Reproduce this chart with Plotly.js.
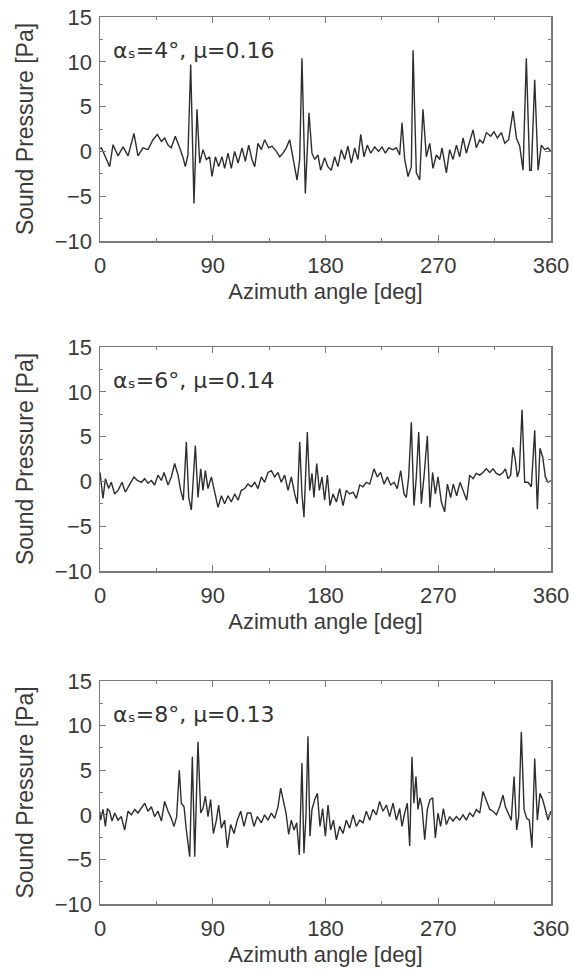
<!DOCTYPE html>
<html>
<head>
<meta charset="utf-8">
<script src="https://cdn.plot.ly/plotly-3.0.1.min.js"></script>
<style>html,body{margin:0;padding:0;background:#fff;}#chart{width:573px;height:974px;}</style>
</head>
<body>
<div id="chart"></div>
<script>
// Azimuth angles [deg] and sound pressure [Pa]
const angle4 = [0,1.1,7.7,10.4,14.4,18.4,22.4,27.1,30.3,34.3,38.3,42.3,45.8,49.0,51.6,54.3,56.9,60.1,63.6,66.3,68.1,70.2,72.4,75.0,77.4,79.6,82.2,84.9,87.5,89.4,92.1,94.7,97.4,99.5,102.2,104.8,107.5,110.2,113.4,116.0,118.7,121.3,123.5,126.1,128.8,131.4,134.6,137.3,140.8,143.4,146.1,148.7,151.4,154.1,157.3,159.4,161.2,163.9,166.8,169.2,171.4,174.0,176.1,179.3,181.9,184.6,187.3,189.9,192.6,195.3,197.9,200.6,203.3,205.9,208.1,210.7,213.4,216.1,219.3,222.4,225.1,227.8,230.4,233.9,236.6,239.2,241.1,243.2,245.9,248.5,249.9,252.5,255.2,257.8,260.5,263.2,265.8,268.5,271.2,273.0,276.5,279.1,281.8,284.5,287.1,289.8,292.4,295.1,297.8,300.4,303.1,305.7,308.4,311.9,314.5,317.2,320.4,323.1,326.2,329.7,332.4,335.0,337.7,340.3,343.0,344.3,347.0,349.7,352.3,355.0,357.6,359.8];
const press4 = [0.3,0.4,-1.7,0.75,-0.5,0.5,-0.5,2.0,-0.5,0.4,0.2,1.3,1.9,1.1,1.5,0.7,0.4,1.7,0.4,-0.7,-1.7,-0.4,9.7,-5.8,4.7,-1.3,0.2,-0.9,-0.6,-2.8,-0.6,-1.7,-0.6,-1.9,-0.2,-1.9,0,-1.3,0.4,-1.1,0.7,-0.9,-1.7,0.9,0.2,1.3,0.4,0.6,0,-0.6,-0.2,0.4,1.3,-0.9,-3.2,-0.9,10.4,-4.7,4.3,-0.2,-0.9,-0.4,-2.1,-0.7,-1.7,-2.1,-0.6,-1.7,0.2,-0.9,0.6,-1.3,0.4,-0.9,1.9,-0.6,0.7,-0.2,0.5,0,0.5,-0.2,0.4,0.2,0.4,-0.4,3.2,-0.9,-2.8,-1.7,11.3,-2.4,-3.2,4.7,-0.6,0.9,-1.9,-0.4,-0.9,0.4,-2.4,0.2,-0.9,0.7,-0.6,1.5,-0.2,1.1,2.4,0.4,1.3,0.9,2.1,1.7,2.2,1.5,2.1,0.9,1.3,4.5,1.5,0.6,-2.1,10.4,-2.1,-2.1,8.0,-2.1,0.7,0.2,0.4,0];

const angle6 = [0,0.5,2.4,4.3,6.9,9.0,11.7,14.4,17.6,20.2,23.7,27.1,29.8,33.0,35.7,38.3,41.0,43.6,46.3,49.0,51.1,54.3,56.9,59.6,62.3,64.4,66.5,68.9,70.8,72.9,76.1,78.2,80.4,82.2,84.1,86.2,88.9,91.5,94.2,96.9,99.5,102.2,104.8,107.5,110.2,112.8,115.5,118.1,120.8,123.5,126.1,128.8,131.4,134.1,136.8,139.4,142.1,144.7,147.4,150.1,152.7,155.4,157.5,159.4,161.2,162.8,165.5,167.4,169.2,170.8,173.0,175.1,177.2,179.3,181.5,183.6,186.0,188.7,191.3,194.0,196.6,199.3,202.0,204.6,207.3,209.9,212.6,215.3,218.7,221.4,224.0,226.7,229.4,232.0,234.7,237.3,240.0,242.7,244.5,246.4,248.5,250.6,252.5,254.4,256.5,258.6,261.3,263.4,265.5,267.7,269.8,272.5,275.1,277.3,279.9,282.0,284.7,287.4,290.0,292.7,295.1,297.8,300.4,303.1,305.7,308.4,311.1,313.7,316.4,319.0,321.7,323.6,325.7,327.8,329.7,331.5,333.1,334.7,336.9,339.0,341.6,344.3,347.0,349.1,351.2,353.4,355.5,357.6,359.8];
const press6 = [1.0,0.5,-1.9,0.3,-0.8,-0.1,-1.4,-1.0,-0.1,-1.2,-0.4,0.5,0.1,-0.1,0.3,-0.2,0.1,-0.4,0.7,0.1,1.0,-0.4,0.5,2.0,0.7,-1.0,-2.1,4.4,-1.8,-3.2,4.0,-1.8,1.4,-1.0,1.2,-0.8,0.5,-1.2,-2.9,-1.6,-2.5,-1.6,-2.3,-1.4,-2.1,-1.0,-0.8,-0.3,-0.6,-0.1,-0.8,0.5,-0.1,1.0,1.2,0.5,1.0,-0.1,0.7,-1.0,0.5,-1.4,-2.5,4.4,-1.4,-4.0,5.5,-1.0,0.9,-1.8,2.0,-1.0,0.5,-2.1,0.7,-2.7,-1.4,-2.3,-0.8,-2.7,-1.0,-1.4,-1.2,-1.9,-0.4,-0.6,-0.1,-0.3,1.4,0.5,1.0,-0.3,0.5,-0.4,-0.1,-0.8,1.2,-1.4,-1.8,0.5,6.6,-2.7,0.5,5.5,-2.5,0.5,5.1,-2.9,1.0,-1.4,0.5,-2.3,-3.4,-0.3,-1.8,-0.3,-1.6,-0.1,-1.0,-2.1,0.7,0.3,0.9,0.7,1.0,1.4,1.0,1.4,0.9,0.7,1.0,1.4,0.3,0.7,3.8,2.4,0.5,1.2,8.0,-0.1,-0.1,-0.6,5.7,-3.1,3.7,2.7,0.5,-0.1,0.1];

const angle8 = [0,0.5,2.4,4.3,5.9,7.7,9.6,11.7,14.4,17.0,19.7,22.4,25.0,27.7,30.3,33.0,35.7,38.3,41.0,43.6,46.3,49.0,51.6,54.3,56.9,59.1,61.2,63.3,64.9,67.1,68.9,71.6,73.7,75.6,78.2,80.4,82.2,84.1,86.2,88.3,90.5,92.9,94.7,96.9,99.5,101.6,104.3,107.0,109.6,112.3,114.9,117.6,120.3,122.9,125.6,128.8,131.4,134.1,136.8,139.4,142.1,144.2,146.3,148.5,150.6,152.7,154.9,157.0,159.1,161.2,162.8,164.4,166.0,167.6,169.2,171.4,173.5,175.6,177.7,179.9,182.0,184.1,186.3,188.7,191.3,194.0,196.6,199.3,202.0,204.6,207.3,209.9,212.6,215.3,217.9,220.6,223.2,225.9,228.6,231.2,233.9,236.6,239.2,241.1,243.2,245.3,247.2,249.0,250.6,252.2,253.8,255.4,257.0,259.2,261.3,263.4,265.5,267.7,269.8,271.9,274.1,276.5,279.1,281.8,284.5,287.1,289.8,292.4,295.1,297.8,300.4,303.1,305.7,308.4,311.1,313.7,316.4,319.0,321.7,323.6,325.7,328.3,330.5,332.6,334.2,336.3,338.5,340.6,342.7,344.8,347.0,349.1,351.2,353.4,355.5,357.6,359.8];
const press8 = [0.3,-0.6,0.6,-1.3,0.7,0.4,-0.7,0.2,-0.6,-0.2,-1.7,0.4,0,0.6,0.2,0.7,1.3,0.4,0.9,-0.2,0.4,-0.7,1.5,0.4,-0.4,-1.3,-0.2,5.0,1.3,0.9,-1.7,-4.7,6.5,-4.7,8.2,0.2,0.7,2.1,-0.2,1.7,-2.1,-0.6,1.1,-1.5,-0.6,-3.7,-1.1,-2.1,-0.6,0.4,-1.3,0.2,0.2,-1.3,-0.2,-0.9,0,-0.6,0.2,-0.4,0.9,3.0,1.5,0.2,-2.2,-0.6,-1.7,-0.9,-4.5,5.8,-4.3,-0.2,8.8,-2.4,0.6,1.7,2.4,-1.3,0.7,-2.4,1.1,-1.7,-0.6,-2.8,-1.3,-2.1,-0.6,-1.5,0,-1.3,-0.6,-0.9,0.4,-0.6,0.6,0,1.5,0.4,1.1,-0.2,1.3,-0.6,0.7,-1.3,0.2,1.3,-3.5,6.5,1.3,4.3,0.6,1.9,0.9,-2.8,0.6,1.7,1.9,-2.6,0.2,-1.3,0.7,-1.1,-0.2,-0.7,-0.2,-0.6,0,-0.6,0.2,-0.2,0.6,0.2,2.6,1.7,0.6,0.4,0,0.9,2.2,0.9,0.2,-0.6,4.3,-1.7,-0.2,9.3,0.6,-0.4,-0.6,-3.7,6.3,-0.6,2.4,1.7,0.6,-0.6,0.4];

const panelLabels = ['α\u209B=4°, μ=0.16', 'α\u209B=6°, μ=0.14', 'α\u209B=8°, μ=0.13'];
const xTickVals = [0, 90, 180, 270, 360];
const yTickVals = [-10, -5, 0, 5, 10, 15];
const xTitle = 'Azimuth angle [deg]';
const yTitle = 'Sound Pressure [Pa]';

const W = 573, H = 974;
const FONT = 'Liberation Sans, Arial, sans-serif';
const LABEL_FONT = 'DejaVu Sans, sans-serif';
const TXT = '#3a3a3a';
const AX = '#7a7a7a';
const plotL = 100 / W, plotR = 551 / W;
const panelsPx = [[17, 241], [347, 571], [681, 904]];

const series = [[angle4, press4], [angle6, press6], [angle8, press8]];
const traces = [];
const layout = {
  width: W, height: H, autosize: false,
  margin: {l: 0, r: 0, t: 0, b: 0},
  paper_bgcolor: '#fff', plot_bgcolor: '#fff',
  showlegend: false,
  font: {family: FONT, size: 22, color: TXT},
  annotations: []
};

series.forEach((s, i) => {
  const n = i === 0 ? '' : String(i + 1);
  traces.push({
    x: s[0], y: s[1], type: 'scatter', mode: 'lines',
    xaxis: 'x' + n, yaxis: 'y' + n,
    line: {color: '#2e2e2e', width: 1.4},
    hoverinfo: 'skip'
  });
  const [top, bot] = panelsPx[i];
  const axCommon = {
    showgrid: false, zeroline: false, automargin: false,
    showline: true, linecolor: AX, linewidth: 1.5, mirror: 'ticks',
    ticks: 'inside', ticklen: 6, tickwidth: 1.2, tickcolor: AX,
    tickfont: {family: FONT, size: 22, color: TXT},
    fixedrange: true
  };
  layout['xaxis' + n] = Object.assign({}, axCommon, {
    domain: [plotL, plotR], anchor: 'y' + n,
    range: [0, 360], tickmode: 'array', tickvals: xTickVals,
    ticktext: xTickVals.map(String),
    minor: {dtick: 45, ticks: 'inside', ticklen: 3, tickcolor: AX, tickwidth: 1, showgrid: false},
    ticklabelstandoff: 4,
    title: {text: xTitle, font: {family: FONT, size: 22, color: TXT}, standoff: 6}
  });
  layout['yaxis' + n] = Object.assign({}, axCommon, {
    domain: [1 - bot / H, 1 - top / H], anchor: 'x' + n,
    range: [-10, 15], tickmode: 'array', tickvals: yTickVals,
    ticktext: yTickVals.map(v => v < 0 ? '\u2212' + Math.abs(v) : String(v)),
    minor: {dtick: 2.5, ticks: 'inside', ticklen: 3, tickcolor: AX, tickwidth: 1, showgrid: false},
    ticklabelstandoff: 2,
    title: {text: yTitle, font: {family: FONT, size: 23, color: TXT}, standoff: 14}
  });
  layout.annotations.push({
    xref: 'x' + n, yref: 'y' + n, x: 8.5, y: 11.3,
    xanchor: 'left', yanchor: 'middle', showarrow: false,
    text: panelLabels[i], font: {family: LABEL_FONT, size: 22, color: '#333'}
  });
});

Plotly.newPlot('chart', traces, layout, {staticPlot: true, displayModeBar: false});
</script>
</body>
</html>
